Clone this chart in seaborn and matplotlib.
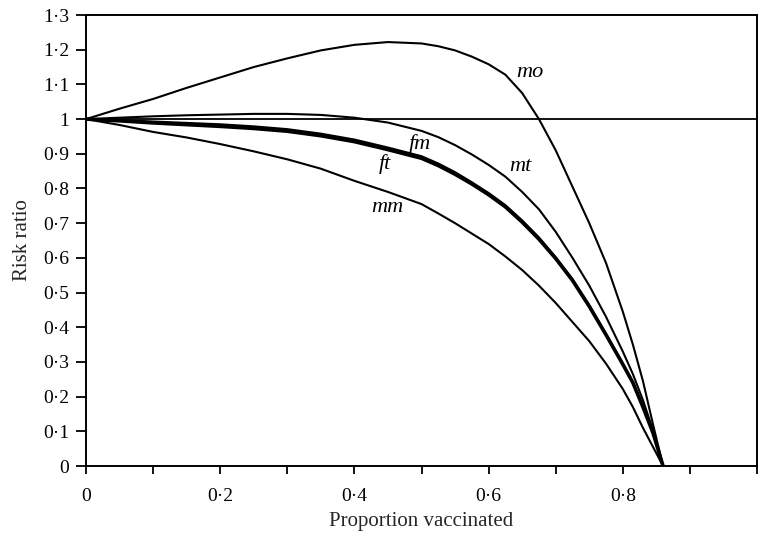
import matplotlib
matplotlib.use("Agg")
import matplotlib.pyplot as plt
import seaborn as sns
import pandas as pd

# Proportion vaccinated (common grid)
prop = [0.0, 0.05, 0.1, 0.15, 0.2, 0.25, 0.3, 0.35, 0.4, 0.45, 0.5, 0.525, 0.55,
        0.575, 0.6, 0.625, 0.65, 0.675, 0.7, 0.725, 0.75, 0.775, 0.8, 0.815,
        0.83, 0.845, 0.86]

mo = [1.0, 1.03, 1.058, 1.09, 1.12, 1.15, 1.175, 1.198, 1.214, 1.222, 1.218, 1.21, 1.198,
      1.18, 1.158, 1.128, 1.075, 1.0, 0.91, 0.805, 0.70, 0.585, 0.445, 0.35,
      0.245, 0.12, 0.0]
mt = [1.0, 1.004, 1.008, 1.011, 1.013, 1.015, 1.015, 1.012, 1.004, 0.99, 0.966, 0.948, 0.925,
      0.898, 0.868, 0.834, 0.79, 0.74, 0.675, 0.60, 0.52, 0.43, 0.33, 0.265,
      0.19, 0.103, 0.0]
fm = [1.0, 0.997, 0.993, 0.989, 0.985, 0.979, 0.971, 0.958, 0.941, 0.918, 0.893, 0.872, 0.847,
      0.818, 0.787, 0.752, 0.708, 0.659, 0.602, 0.539, 0.464, 0.381, 0.296, 0.242,
      0.172, 0.096, 0.0]
ft = [1.0, 0.995, 0.989, 0.984, 0.979, 0.973, 0.965, 0.952, 0.935, 0.912, 0.887, 0.866, 0.841,
      0.813, 0.782, 0.747, 0.703, 0.654, 0.598, 0.535, 0.46, 0.378, 0.293, 0.24,
      0.17, 0.095, 0.0]
mm = [1.0, 0.983, 0.963, 0.947, 0.928, 0.907, 0.884, 0.857, 0.822, 0.79, 0.755, 0.728, 0.70,
      0.67, 0.64, 0.604, 0.565, 0.52, 0.47, 0.415, 0.36, 0.295, 0.222, 0.17,
      0.11, 0.055, 0.0]

series = {"mo": mo, "mt": mt, "fm": fm, "ft": ft, "mm": mm}
widths = {"mo": 1.5, "mt": 1.5, "fm": 1.5, "ft": 2.6, "mm": 1.5}

# label positions (data coords)
label_names = ["mo", "mt", "fm", "ft", "mm"]
label_x = [0.662, 0.647, 0.498, 0.446, 0.449]
label_y = [1.135, 0.862, 0.928, 0.871, 0.744]

xticks = [0, 0.1, 0.2, 0.3, 0.4, 0.5, 0.6, 0.7, 0.8, 0.9, 1.0]
xticklabels = ["0", "", "0·2", "", "0·4", "", "0·6", "", "0·8", "", ""]
yticks = [0, 0.1, 0.2, 0.3, 0.4, 0.5, 0.6, 0.7, 0.8, 0.9, 1.0, 1.1, 1.2, 1.3]
yticklabels = ["0", "0·1", "0·2", "0·3", "0·4", "0·5", "0·6", "0·7", "0·8", "0·9",
               "1", "1·1", "1·2", "1·3"]

sns.set_theme(style="ticks")
plt.rcParams["font.family"] = ["Liberation Serif", "DejaVu Serif"]

fig = plt.figure(figsize=(7.59, 5.34), dpi=100)
ax = fig.add_axes([0.1133, 0.1273, 0.8841, 0.8446])

for name, vals in series.items():
    df = pd.DataFrame({"x": prop, "y": vals})
    sns.lineplot(data=df, x="x", y="y", ax=ax, color="black",
                 linewidth=widths[name], estimator=None, sort=False)

ax.axhline(1.0, color="black", linewidth=1.3)

for n, lx, ly in zip(label_names, label_x, label_y):
    ax.text(lx, ly, n, fontsize=16, style="italic", ha="center", va="center",
            color="black")

ax.set_xlim(0, 1.0)
ax.set_ylim(0, 1.3)
ax.set_xticks(xticks)
ax.set_xticklabels(xticklabels)
ax.set_yticks(yticks)
ax.set_yticklabels(yticklabels)
ax.tick_params(axis="x", direction="out", length=6, width=1.3,
               labelsize=14, colors="black", pad=10)
ax.tick_params(axis="y", direction="out", length=7, width=1.3,
               labelsize=14, colors="black", pad=5)
for s in ax.spines.values():
    s.set_visible(True)
    s.set_linewidth(1.4)
    s.set_color("black")
ax.set_xlabel("Proportion vaccinated", fontsize=15, labelpad=5)
ax.set_ylabel("Risk ratio", fontsize=15, labelpad=8)

fig.savefig("out.png", dpi=100)
